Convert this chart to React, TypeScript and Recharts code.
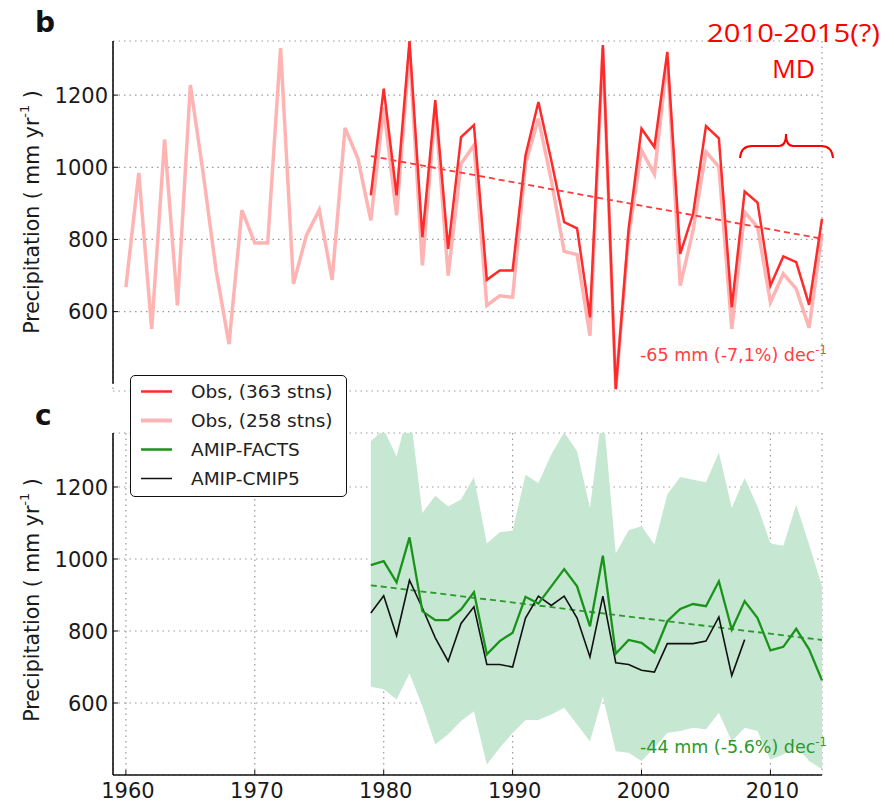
import React from 'react';
import { ComposedChart, Line, Area, XAxis, YAxis, CartesianGrid, ReferenceLine } from 'recharts';

// ---------- data ----------
const yearsAll = [
  1960, 1961, 1962, 1963, 1964, 1965, 1966, 1967, 1968, 1969,
  1970, 1971, 1972, 1973, 1974, 1975, 1976, 1977, 1978, 1979,
  1980, 1981, 1982, 1983, 1984, 1985, 1986, 1987, 1988, 1989,
  1990, 1991, 1992, 1993, 1994, 1995, 1996, 1997, 1998, 1999,
  2000, 2001, 2002, 2003, 2004, 2005, 2006, 2007, 2008, 2009,
  2010, 2011, 2012, 2013, 2014,
];
const yearsModel = [
  1979, 1980, 1981, 1982, 1983, 1984, 1985, 1986, 1987, 1988, 1989,
  1990, 1991, 1992, 1993, 1994, 1995, 1996, 1997, 1998, 1999,
  2000, 2001, 2002, 2003, 2004, 2005, 2006, 2007, 2008, 2009,
  2010, 2011, 2012, 2013, 2014,
];

// Obs. (258 stns), 1960-2014
const obs258 = [
  668, 984, 552, 1077, 617, 1228, 982, 714, 510, 881,
  790, 790, 1330, 677, 811, 882, 688, 1109, 1024, 853,
  1165, 867, 1325, 728, 1165, 700, 1010, 1061, 617, 644,
  640, 1010, 1135, 964, 767, 758, 533, 1330, 385, 810,
  1047, 981, 1300, 672, 825, 1043, 1001, 552, 876, 834,
  626, 705, 663, 555, 816,
];
// Obs. (363 stns), 1979-2014
const obs363 = [
  922, 1218, 922, 1350, 806, 1186, 774, 1084, 1117, 688, 714,
  714, 1033, 1181, 1019, 848, 831, 584, 1339, 385, 830,
  1107, 1056, 1320, 760, 871, 1114, 1080, 612, 933, 902,
  672, 753, 737, 619, 857,
];
// AMIP-FACTS, 1979-2014
const amipFacts = [
  983, 994, 935, 1060, 855, 830, 830, 860, 908, 735, 772,
  795, 895, 876, 924, 972, 924, 813, 1009, 737, 775,
  767, 740, 827, 861, 875, 869, 938, 804, 883, 836,
  746, 756, 806, 749, 663,
];
// AMIP-CMIP5, 1979-2008
const amipCmip5 = [
  850, 898, 787, 941, 864, 781, 716, 821, 867, 707, 707,
  700, 836, 897, 871, 897, 836, 728, 897, 712, 707,
  691, 686, 765, 765, 765, 772, 839, 676, 776,
];
// FACTS ensemble spread, 1979-2014
const bandLow = [
  645, 638, 610, 682, 591, 485, 513, 550, 577, 429, 476,
  517, 553, 553, 568, 587, 540, 494, 617, 466, 462,
  439, 476, 517, 522, 531, 527, 573, 494, 531, 522,
  443, 457, 480, 439, 416,
];
const bandHigh = [
  1327, 1360, 1285, 1420, 1128, 1176, 1146, 1165, 1228, 1043, 1074,
  1079, 1234, 1211, 1290, 1352, 1299, 1142, 1420, 1015, 1080,
  1091, 1040, 1179, 1228, 1220, 1213, 1296, 1142, 1225, 1146,
  1043, 1037, 1151, 1040, 924,
];
// linear trends (start/end of 1979-2014)
const trendYears = [1979, 2014];
const trendObs = [1031, 802];
const trendModel = [927, 775];

const xTicks = [1960, 1970, 1980, 1990, 2000, 2010];
const yTicks = [600, 800, 1000, 1200];

const legendItems = [
  { label: 'Obs, (363 stns)', color: '#ff2a2a', width: 2.5 },
  { label: 'Obs, (258 stns)', color: '#ffb4b4', width: 4 },
  { label: 'AMIP-FACTS', color: '#1a931a', width: 2.5 },
  { label: 'AMIP-CMIP5', color: '#111111', width: 1.5 },
];

const trendValue = (year: number, vals: number[]) =>
  year === trendYears[0] ? vals[0] : year === trendYears[1] ? vals[1] : null;

const obsStart = yearsModel[0];
const topData = yearsAll.map((year, i) => ({
  year,
  obs258: obs258[i],
  obs363: year >= obsStart ? obs363[year - obsStart] : null,
  trend: trendValue(year, trendObs),
}));
const bottomData = yearsModel.map((year, i) => ({
  year,
  facts: amipFacts[i],
  cmip5: i < amipCmip5.length ? amipCmip5[i] : null,
  band: [bandLow[i], bandHigh[i]],
  trend: trendValue(year, trendModel),
}));

// ---------- styling helpers ----------
const FONT = 'DejaVu Sans';

const YTick = (props: any) => {
  const { x, y, payload } = props;
  return (
    <g>
      <line x1={x + 8} x2={x + 13} y1={y} y2={y} stroke="#111" strokeWidth={1} />
      <text x={x + 3} y={y + 7.5} textAnchor="end" fontSize={21} fontFamily={FONT} fill="#1a1a1a">
        {payload.value}
      </text>
    </g>
  );
};

const XTick = (props: any) => {
  const { x, y, payload } = props;
  return (
    <g>
      <line x1={x} x2={x} y1={y - 8} y2={y - 13} stroke="#111" strokeWidth={1} />
      <text x={x + 2} y={y + 15} textAnchor="middle" fontSize={21} fontFamily={FONT} fill="#1a1a1a">
        {payload.value}
      </text>
    </g>
  );
};

const YLabel = (props: any) => {
  const vb = props.viewBox || {};
  const cx = 32;
  const cy = vb.y + vb.height / 2 - 4;
  return (
    <text
      x={cx}
      y={cy}
      transform={`rotate(-90, ${cx}, ${cy})`}
      textAnchor="middle"
      dominantBaseline="central"
      fontSize={20.5}
      fontFamily={FONT}
      fill="#1a1a1a"
    >
      <tspan>Precipitation ( mm yr</tspan>
      <tspan fontSize={13} dy={-8}>-1</tspan>
      <tspan dy={8}> )</tspan>
    </text>
  );
};

export default function App() {
  return (
    <div style={{ position: 'absolute', left: 0, top: 0, width: 894, height: 804, background: '#fff', overflow: 'hidden' }}>
      {/* panel b */}
      <div style={{ position: 'absolute', left: 0, top: 0 }}>
        <ComposedChart width={894} height={400} data={topData} margin={{ top: 41, right: 72, bottom: 9, left: 53 }}>
          <CartesianGrid strokeDasharray="1.5 4" stroke="#9a9a9a" strokeWidth={1.2} />
          <XAxis
            dataKey="year"
            type="number"
            domain={[1959, 2014]}
            ticks={xTicks}
            height={0}
            axisLine={false}
            tickLine={false}
            tick={false}
          />
          <YAxis
            type="number"
            domain={[380, 1350]}
            ticks={yTicks}
            width={60}
            axisLine={false}
            tickLine={false}
            tick={<YTick />}
            label={<YLabel />}
          />
          <ReferenceLine
            segment={[{ x: 1959, y: 400 }, { x: 1959, y: 1350 }]}
            stroke="#111"
            strokeWidth={1.6}
          />
          <Line
            dataKey="obs258"
            stroke="#ffb4b4"
            strokeWidth={3.5}
            dot={false}
            isAnimationActive={false}
          />
          <Line
            dataKey="obs363"
            stroke="#ff2a2a"
            strokeWidth={2.5}
            dot={false}
            isAnimationActive={false}
          />
          <Line
            dataKey="trend"
            stroke="#ff3a3a"
            strokeWidth={1.8}
            strokeDasharray="6 4"
            connectNulls
            dot={false}
            isAnimationActive={false}
          />
        </ComposedChart>
      </div>

      {/* panel c */}
      <div style={{ position: 'absolute', left: 0, top: 400 }}>
        <ComposedChart width={894} height={404} data={bottomData} margin={{ top: 33, right: 72, bottom: 0, left: 53 }}>
          <CartesianGrid strokeDasharray="1.5 4" stroke="#9a9a9a" strokeWidth={1.2} />
          <XAxis
            dataKey="year"
            type="number"
            domain={[1959, 2014]}
            ticks={xTicks}
            height={29}
            axisLine={{ stroke: '#111', strokeWidth: 1.6 }}
            tickLine={false}
            tick={<XTick />}
          />
          <YAxis
            type="number"
            domain={[400, 1350]}
            allowDataOverflow
            ticks={yTicks}
            width={60}
            axisLine={{ stroke: '#111', strokeWidth: 1.6 }}
            tickLine={false}
            tick={<YTick />}
            label={<YLabel />}
          />
          <Area
            dataKey="band"
            stroke="none"
            fill="#c6e7d2"
            fillOpacity={1}
            isAnimationActive={false}
          />
          <Line
            dataKey="trend"
            stroke="#2a9a2a"
            strokeWidth={1.8}
            strokeDasharray="6 4"
            connectNulls
            dot={false}
            isAnimationActive={false}
          />
          <Line
            dataKey="cmip5"
            stroke="#111111"
            strokeWidth={1.6}
            dot={false}
            isAnimationActive={false}
          />
          <Line
            dataKey="facts"
            stroke="#1a931a"
            strokeWidth={2.3}
            dot={false}
            isAnimationActive={false}
          />
        </ComposedChart>
      </div>

      {/* annotations */}
      <svg width={894} height={804} style={{ position: 'absolute', left: 0, top: 0, pointerEvents: 'none' }}>
        <text x={35} y={32} fontSize={28} fontWeight="bold" fontFamily={FONT} fill="#111">b</text>
        <text x={35} y={425} fontSize={28} fontWeight="bold" fontFamily={FONT} fill="#111">c</text>
        <text x={707} y={42} fontSize={26} fontFamily="Open Sans" fill="#ff0000" textLength={173} lengthAdjust="spacingAndGlyphs">
          2010-2015(?)
        </text>
        <text x={772} y={78} fontSize={26} fontFamily="Open Sans" fill="#ff0000" textLength={43} lengthAdjust="spacingAndGlyphs">
          MD
        </text>
        <path
          d="M 740 158 Q 741 146 752 146 L 779 146 Q 786 146 786 134 Q 786 146 793 146 L 821 146 Q 832 146 833 158"
          stroke="#ff0000"
          strokeWidth={2}
          fill="none"
        />
        <text x={640} y={361} fontSize={17.5} fontFamily={FONT} fill="#ff4040">
          <tspan>-65 mm (-7,1%) dec</tspan>
          <tspan fontSize={11.5} dy={-7}>-1</tspan>
        </text>
        <text x={640} y={753} fontSize={17.5} fontFamily={FONT} fill="#2a9a2a">
          <tspan>-44 mm (-5.6%) dec</tspan>
          <tspan fontSize={11.5} dy={-7}>-1</tspan>
        </text>
      </svg>

      {/* legend */}
      <div
        style={{
          position: 'absolute',
          left: 130,
          top: 375,
          width: 217,
          height: 122,
          boxSizing: 'border-box',
          border: '1.5px solid #111',
          borderRadius: 5,
          background: '#fff',
          paddingTop: 1,
        }}
      >
        {legendItems.map((it) => (
          <div key={it.label} style={{ display: 'flex', alignItems: 'center', height: 29 }}>
            <svg width={60} height={29} style={{ flex: 'none' }}>
              <line x1={10} x2={41} y1={14.5} y2={14.5} stroke={it.color} strokeWidth={it.width} />
            </svg>
            <span style={{ fontFamily: FONT, fontSize: 18.5, color: '#222', whiteSpace: 'nowrap' }}>{it.label}</span>
          </div>
        ))}
      </div>
    </div>
  );
}
